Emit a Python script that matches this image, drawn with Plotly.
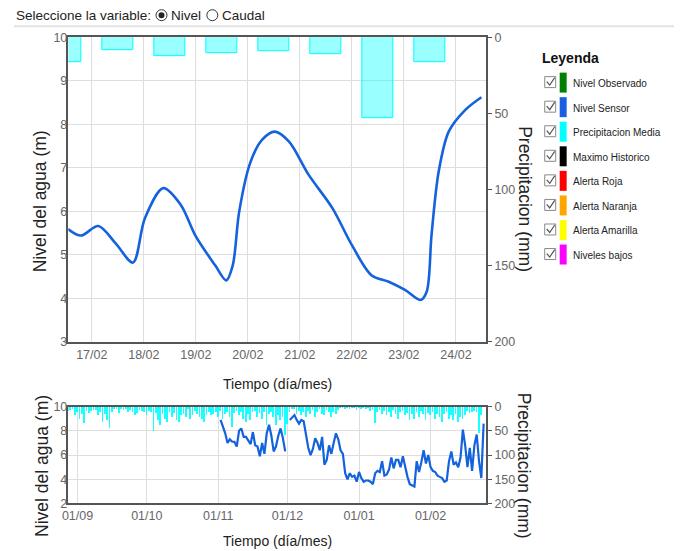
import pandas as pd
import plotly.graph_objects as go

W, H = 682, 551
FONT = "Liberation Sans, Arial"

# ---- top chart data (last days) ----
sensor_time = ["2024-02-16 13:00", "2024-02-16 19:00", "2024-02-17 03:00", "2024-02-17 11:00",
               "2024-02-17 19:00", "2024-02-18 00:30", "2024-02-18 09:00", "2024-02-18 17:00",
               "2024-02-19 00:00", "2024-02-19 09:00", "2024-02-19 14:00", "2024-02-19 17:00",
               "2024-02-19 20:00", "2024-02-20 01:00", "2024-02-20 06:30", "2024-02-20 12:30",
               "2024-02-20 19:00", "2024-02-21 04:00", "2024-02-21 15:00", "2024-02-22 00:00",
               "2024-02-22 09:00", "2024-02-22 17:00", "2024-02-23 00:30", "2024-02-23 07:40",
               "2024-02-23 10:30", "2024-02-23 12:45", "2024-02-23 16:00", "2024-02-23 20:40",
               "2024-02-24 04:20", "2024-02-24 11:45"]
sensor_level = [5.59, 5.44, 5.66, 5.26, 4.82, 5.84, 6.53, 6.15, 5.42, 4.75, 4.41, 4.75,
                5.99, 7.10, 7.64, 7.83, 7.60, 6.84, 6.07, 5.22, 4.53, 4.38, 4.19, 3.96,
                4.15, 5.46, 6.90, 7.83, 8.33, 8.62]

rain_days = ["2024-02-16 12:00", "2024-02-17 12:00", "2024-02-18 12:00", "2024-02-19 12:00",
             "2024-02-20 12:00", "2024-02-21 12:00", "2024-02-22 12:00", "2024-02-23 12:00"]
rain_mm = [16.4, 8.7, 12.3, 10.3, 9.2, 11.2, 53, 16.4]

# ---- bottom chart data (season) ----
season_rain = [8, 7, 5, 17, 10, 24, 15, 34, 8, 12,
               8, 6, 7, 17, 10, 31, 15, 27, 43, 10,
               5, 4, 12, 4, 7, 5, 10, 6, 10, 17,
               13, 6, 8, 10, 17, 8, 10, 50, 13, 27,
               38, 15, 24, 31, 10, 21, 13, 27, 31, 17,
               14, 20, 5, 24, 17, 8, 14, 20, 24, 31,
               17, 10, 17, 14, 10, 20, 8, 24, 14, 10,
               20, 41, 12, 8, 17, 10, 24, 31, 14, 27,
               10, 8, 20, 12, 24, 10, 38, 14, 10, 20,
               38, 17, 27, 20, 58, 35, 10, 5, 4, 14,
               8, 17, 10, 20, 8, 14, 6, 20, 10, 4,
               14, 17, 6, 10, 20, 10, 14, 6, 3, 3,
               4, 2, 5, 3, 2, 6, 3, 4, 2, 5,
               3, 8, 6, 34, 10, 6, 14, 8, 17, 10,
               20, 6, 14, 24, 10, 8, 17, 12, 27, 14,
               24, 10, 20, 8, 14, 27, 12, 17, 10, 24,
               14, 20, 31, 14, 10, 24, 17, 27, 14, 31,
               20, 24, 16, 9, 12, 10, 9, 11, 53, 16,
               0]
season_rain_days = pd.date_range("2023-08-28", periods=len(season_rain), freq="D")

season_level = [8.9, 8.4, 7.8, 7.0, 7.3, 7.1, 7.1, 6.7, 8.0, 8.2, 7.5, 7.5, 7.2, 6.9, 7.9,
                6.8, 6.7, 5.9, 7.0, 6.1, 7.8, 8.5, 7.6, 6.3, 6.7, 7.6, 8.2, 7.4, 6.3,
                None,
                8.9, 9.1, 9.3, 8.9, 8.6, 8.9, 8.8, 7.7, 6.6, 6.0, 6.5, 7.4, 7.0, 6.4, 7.5,
                5.2, 5.6, 6.8, 6.1, 7.0, 7.8, 7.3, 6.4, 6.1, 4.5, 4.0, 4.5, 4.2, 4.3, 3.8,
                4.6, 4.1, 3.8, 3.9, 3.9, 3.8, 3.6, 4.5, 4.7, 4.6, 5.5, 4.3, 4.4, 4.8, 5.8,
                4.9, 5.6, 5.6, 5.0, 5.9, 4.9, 4.2, 3.6, 3.5, 3.4, 5.5, 4.6, 5.4, 6.4, 5.3, 6.0,
                5.0, 4.7, 4.6, 4.3, 4.2, 4.1, 3.8, 3.9, 5.5, 6.3, 5.2, 5.4, 5.0, 5.8, 8.1,
                6.8, 5.0, 6.6, 4.7, 6.8, 7.7, 5.5, 4.1, 8.6]
season_level_days = pd.date_range("2023-11-02", periods=len(season_level), freq="D")

legend_names = ["Nivel Observado", "Nivel Sensor", "Precipitacion Media", "Maximo Historico",
                "Alerta Roja", "Alerta Naranja", "Alerta Amarilla", "Niveles bajos"]
legend_colors = ["#008000", "#1a5fe0", "#00FFFF", "#000000",
                 "#FF0000", "#FFA500", "#FFFF00", "#FF00FF"]

BLUE = "#1462dc"


# the page shows the figure slightly offset, so positions (taken in screen
# pixels of the target) are mapped back to figure pixels first
def px(x):
    return max((x - 14.5) / 0.9945, 0) / W


def py(y):
    return 1 - (y - 12.8) / 0.976 / H


fig = go.Figure()

fig.add_trace(go.Bar(x=rain_days, y=rain_mm, width=0.6 * 86400000,
                     marker=dict(color="rgba(0,255,255,0.4)", line=dict(color="#00FFFF", width=1)),
                     xaxis="x", yaxis="y", showlegend=False))
fig.add_trace(go.Scatter(x=sensor_time, y=sensor_level, mode="lines",
                         line=dict(color=BLUE, width=2.6, shape="spline", smoothing=0.9),
                         xaxis="x", yaxis="y2", showlegend=False))
fig.add_trace(go.Bar(x=season_rain_days, y=season_rain, width=0.75 * 86400000,
                     marker=dict(color="rgba(0,255,255,0.9)", line=dict(width=0)),
                     xaxis="x2", yaxis="y3", showlegend=False))
fig.add_trace(go.Scatter(x=season_level_days, y=season_level, mode="lines",
                         line=dict(color=BLUE, width=2.2), connectgaps=False,
                         xaxis="x2", yaxis="y4", showlegend=False))

tickfont = dict(family=FONT, size=12.5, color="#666")
frame = dict(showline=True, linecolor="#555", linewidth=2, mirror=True)
grid = dict(showgrid=True, gridcolor="#dedede", gridwidth=1, zeroline=False)

fig.update_layout(
    width=W, height=H, margin=dict(l=0, r=0, t=0, b=0),
    paper_bgcolor="white", plot_bgcolor="white", bargap=0,
    font=dict(family=FONT),
    xaxis=dict(domain=[px(69), px(488)], anchor="y", type="date",
               range=["2024-02-16 13:10", "2024-02-24 13:50"],
               tick0="2024-02-17", dtick=86400000, tickformat="%d/%m",
               tickfont=tickfont, ticks="", **frame, **grid),
    yaxis=dict(domain=[py(340), py(35)], anchor="x", side="right",
               range=[200, 0], tickvals=[0, 50, 100, 150, 200],
               ticks="outside", ticklen=4, tickcolor="#555",
               tickfont=tickfont, showgrid=False, zeroline=False,
               showline=True, linecolor="#555", linewidth=2, mirror=True),
    yaxis2=dict(overlaying="y", anchor="x", side="left", range=[3, 10], dtick=1,
                tickfont=tickfont, ticks="", **grid),
    xaxis2=dict(domain=[px(69), px(488)], anchor="y3", type="date",
                range=["2023-08-28", "2024-02-25"],
                tick0="2023-09-01", dtick="M1", tickformat="%d/%m",
                tickfont=tickfont, ticks="", **frame, **grid),
    yaxis3=dict(domain=[py(502), py(405)], anchor="x2", side="right",
                range=[200, 0], tickvals=[0, 50, 100, 150, 200],
                ticks="outside", ticklen=4, tickcolor="#555",
                tickfont=tickfont, showgrid=False, zeroline=False,
                showline=True, linecolor="#555", linewidth=2, mirror=True),
    yaxis4=dict(overlaying="y3", anchor="x2", side="left", range=[2, 10], dtick=2,
                tickfont=tickfont, ticks="", **grid),
)

ann = [
    (41, 199, "Nivel del agua (m)", -90, 17.5),
    (527, 197, "Precipitacion (mm)", 90, 17.5),
    (279, 382, "Tiempo (día/mes)", 0, 14),
    (42, 464, "Nivel del agua (m)", -90, 17.5),
    (527, 464, "Precipitacion (mm)", 90, 17.5),
    (279, 540, "Tiempo (día/mes)", 0, 14),
]
for x, y, t, a, s in ann:
    fig.add_annotation(x=px(x), y=py(y), xref="paper", yref="paper", text=t, textangle=a,
                       showarrow=False, font=dict(family=FONT, size=s, color="#222"),
                       xanchor="center", yanchor="middle")

# header with radio buttons
head = dict(family=FONT, size=13.5, color="#222")
for x, t in ((12, "Seleccione la variable:"), (170, "Nivel"), (221, "Caudal")):
    fig.add_annotation(x=px(x), y=py(13), xref="paper", yref="paper", text=t,
                       showarrow=False, xanchor="left", yanchor="middle", font=head)
for cx in (162.5, 213.5):
    fig.add_shape(type="circle", xref="paper", yref="paper",
                  x0=px(cx - 5.5), x1=px(cx + 5.5), y0=py(13 + 5.5), y1=py(13 - 5.5),
                  line=dict(color="#333", width=1), fillcolor="white")
fig.add_shape(type="circle", xref="paper", yref="paper",
              x0=px(162.5 - 3), x1=px(162.5 + 3), y0=py(16), y1=py(10),
              line=dict(width=0), fillcolor="#222")
fig.add_shape(type="line", xref="paper", yref="paper", x0=0, x1=1, y0=py(24), y1=py(24),
              line=dict(color="#e3e3e3", width=2))

# legend panel
fig.add_annotation(x=px(542), y=py(56), xref="paper", yref="paper", text="<b>Leyenda</b>",
                   showarrow=False, xanchor="left", yanchor="middle",
                   font=dict(family=FONT, size=14, color="#111"))
for i, (name, col) in enumerate(zip(legend_names, legend_colors)):
    cy = 81.5 + i * 24.6
    fig.add_shape(type="rect", xref="paper", yref="paper",
                  x0=px(547), x1=px(558), y0=py(cy + 4), y1=py(cy - 7),
                  line=dict(color="#888", width=1), fillcolor="white")
    fig.add_shape(type="path", xref="paper", yref="paper",
                  path=f"M {px(549)} {py(cy - 2)} L {px(552)} {py(cy + 1.5)} L {px(557)} {py(cy - 6)}",
                  line=dict(color="#555", width=1.2))
    fig.add_shape(type="rect", xref="paper", yref="paper",
                  x0=px(562), x1=px(569), y0=py(cy + 9), y1=py(cy - 11),
                  line=dict(width=0), fillcolor=col)
    fig.add_annotation(x=px(573), y=py(cy), xref="paper", yref="paper", text=name,
                       showarrow=False, xanchor="left", yanchor="middle",
                       font=dict(family=FONT, size=10, color="#222"))

fig.write_html("out.html")
